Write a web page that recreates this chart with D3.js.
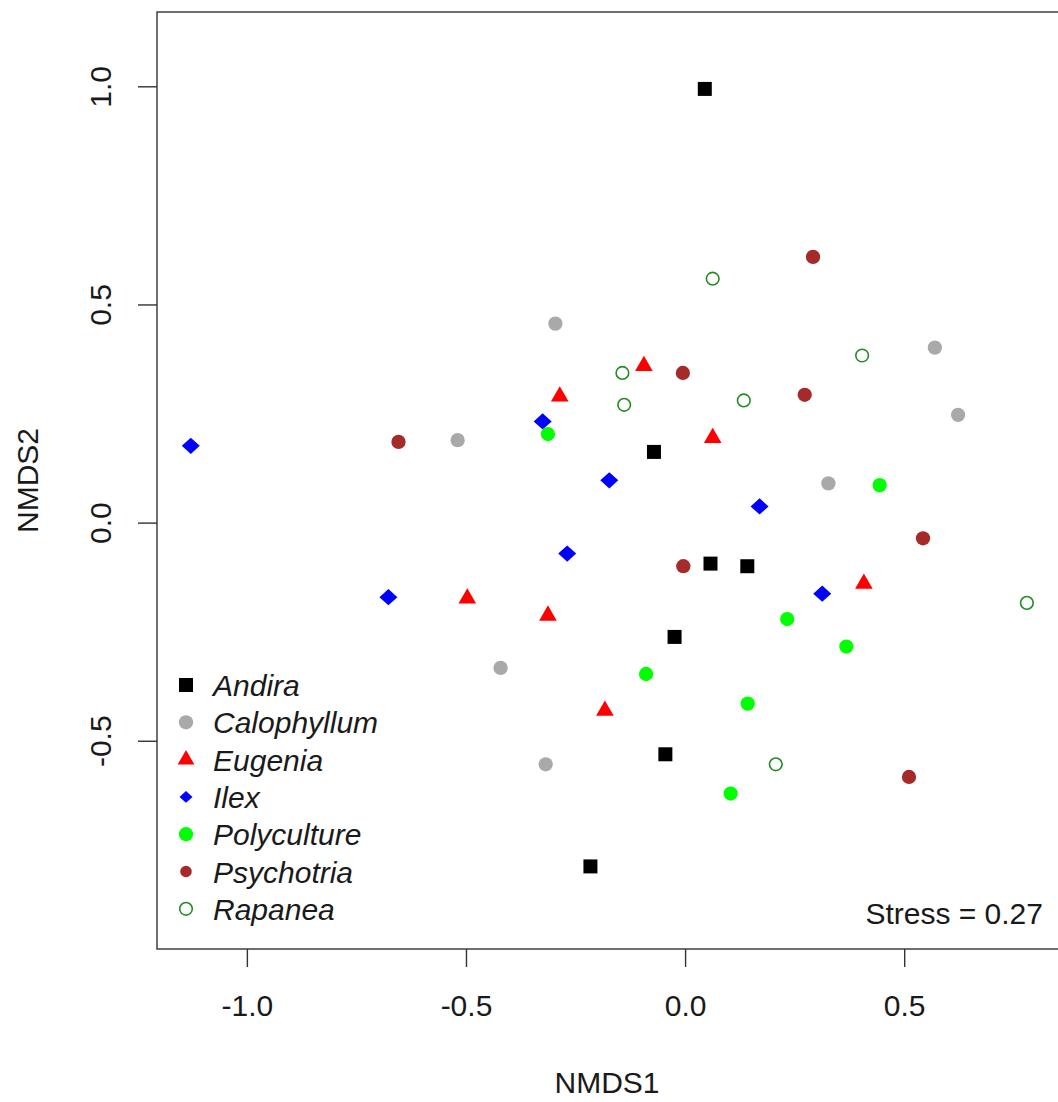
<!DOCTYPE html>
<html>
<head>
<meta charset="utf-8">
<script src="https://cdn.jsdelivr.net/npm/d3@7"></script>
<style>
  html, body { margin: 0; padding: 0; background: #fff; }
  svg { display: block; font-family: "Liberation Sans", Arial, sans-serif; }
</style>
</head>
<body>
<svg id="chart" width="1058" height="1102"></svg>
<script>
// NMDS site scores per plant treatment
const groups = ["Andira", "Calophyllum", "Eugenia", "Ilex", "Polyculture", "Psychotria", "Rapanea"];

const andiraX = [0.045, -0.071, 0.058, 0.142, -0.024, -0.045, -0.216];
const andiraY = [0.994, 0.162, -0.094, -0.100, -0.262, -0.531, -0.788];

const calophyllumX = [-0.296, -0.519, 0.570, 0.623, 0.327, -0.421, -0.318];
const calophyllumY = [0.456, 0.189, 0.401, 0.247, 0.090, -0.333, -0.554];

const eugeniaX = [-0.094, -0.286, 0.063, -0.497, -0.313, 0.408, -0.183];
const eugeniaY = [0.359, 0.289, 0.194, -0.174, -0.213, -0.140, -0.431];

const ilexX = [-1.128, -0.325, -0.173, 0.170, -0.269, -0.677, 0.313];
const ilexY = [0.176, 0.232, 0.097, 0.037, -0.071, -0.171, -0.163];

const polycultureX = [-0.313, 0.444, 0.233, 0.368, -0.089, 0.143, 0.104];
const polycultureY = [0.203, 0.086, -0.221, -0.284, -0.347, -0.415, -0.621];

const psychotriaX = [0.292, -0.005, 0.273, -0.654, -0.004, 0.543, 0.511];
const psychotriaY = [0.609, 0.343, 0.293, 0.185, -0.100, -0.036, -0.583];

const rapaneaX = [0.063, -0.143, -0.139, 0.134, 0.404, 0.780, 0.207];
const rapaneaY = [0.559, 0.343, 0.270, 0.280, 0.383, -0.184, -0.554];

const xTicks = [-1.0, -0.5, 0.0, 0.5];
const yTicks = [-0.5, 0.0, 0.5, 1.0];
const stressValue = 0.27;

// drawing styles per group
const colors = ["#000000", "#a9a9a9", "#ff0000", "#0000ff", "#00ff00", "#a52a2a", "#228b22"];

const diamond = {
  draw(ctx, size) {
    const w = Math.sqrt(size) / 2, h = w * 0.9;
    ctx.moveTo(0, -h); ctx.lineTo(w, 0); ctx.lineTo(0, h); ctx.lineTo(-w, 0); ctx.closePath();
  }
};
const shapes = [d3.symbolSquare, d3.symbolCircle, d3.symbolTriangle, diamond, d3.symbolCircle, d3.symbolCircle, d3.symbolCircle];
const plotSizes = [196, 160, 135, 324, 160, 160, 125];
const legendSizes = [196, 160, 120, 169, 160, 105, 125];
const hollow = [false, false, false, false, false, false, true];

const seriesX = [andiraX, calophyllumX, eugeniaX, ilexX, polycultureX, psychotriaX, rapaneaX];
const seriesY = [andiraY, calophyllumY, eugeniaY, ilexY, polycultureY, psychotriaY, rapaneaY];

const points = [];
groups.forEach((g, gi) => {
  seriesX[gi].forEach((v, i) => points.push({ group: gi, x: v, y: seriesY[gi][i] }));
});

const svg = d3.select("#chart");
const plotL = 157, plotR = 1059, plotT = 12, plotB = 949;

const x = d3.scaleLinear().domain([-1.2051, 0.8533]).range([plotL, plotR]);
const y = d3.scaleLinear().domain([-0.9773, 1.1703]).range([plotB, plotT]);

const fontSize = 30;
const ink = "#1a1a1a";

// plot frame
svg.append("rect")
  .attr("x", plotL).attr("y", plotT)
  .attr("width", plotR - plotL).attr("height", plotB - plotT)
  .attr("fill", "none").attr("stroke", "#333").attr("stroke-width", 1.4);

// axes
const fmt = d => d.toFixed(1);
const xAxis = svg.append("g")
  .attr("transform", `translate(0,${plotB})`)
  .call(d3.axisBottom(x).tickValues(xTicks).tickFormat(fmt).tickSize(18).tickPadding(26));
const yAxis = svg.append("g")
  .attr("transform", `translate(${plotL},0)`)
  .call(d3.axisLeft(y).tickValues(yTicks).tickFormat(fmt).tickSize(19).tickPadding(0));

[xAxis, yAxis].forEach(a => {
  a.select(".domain").remove();
  a.selectAll(".tick line").attr("stroke", "#333").attr("stroke-width", 1.4);
  a.selectAll(".tick text").attr("fill", ink).attr("font-size", fontSize)
    .attr("font-family", "Liberation Sans, Arial, sans-serif");
});
xAxis.selectAll(".tick text").attr("dy", null).attr("y", 0)
  .attr("transform", "translate(0,67)");
yAxis.selectAll(".tick text")
  .attr("x", null).attr("dy", null)
  .attr("text-anchor", "middle")
  .attr("transform", "translate(-46,0) rotate(-90)")
  .attr("y", 0);

// axis titles
svg.append("text")
  .attr("x", 607).attr("y", 1093)
  .attr("text-anchor", "middle").attr("font-size", fontSize).attr("fill", ink)
  .text("NMDS1");
svg.append("text")
  .attr("transform", `translate(38,${(plotT + plotB) / 2}) rotate(-90)`)
  .attr("text-anchor", "middle").attr("font-size", fontSize).attr("fill", ink)
  .text("NMDS2");

// points
svg.append("g").selectAll("path")
  .data(points)
  .join("path")
  .attr("transform", d => `translate(${x(d.x)},${y(d.y)})`)
  .attr("d", d => d3.symbol(shapes[d.group], plotSizes[d.group])())
  .attr("fill", d => hollow[d.group] ? "none" : colors[d.group])
  .attr("stroke", d => hollow[d.group] ? colors[d.group] : "none")
  .attr("stroke-width", 1.6);

// legend
const legend = svg.append("g");
const legX = 186, legY0 = 685, legStep = 37.3;
groups.forEach((g, gi) => {
  const cy = legY0 + gi * legStep;
  legend.append("path")
    .attr("transform", `translate(${legX},${cy})`)
    .attr("d", d3.symbol(shapes[gi], legendSizes[gi])())
    .attr("fill", hollow[gi] ? "none" : colors[gi])
    .attr("stroke", hollow[gi] ? colors[gi] : "none")
    .attr("stroke-width", 1.6);
  legend.append("text")
    .attr("x", 213).attr("y", cy + 11)
    .attr("font-size", fontSize).attr("font-style", "italic").attr("fill", ink)
    .text(g);
});

// stress annotation
svg.append("text")
  .attr("x", 1043).attr("y", 924)
  .attr("text-anchor", "end").attr("font-size", fontSize).attr("fill", ink)
  .text(`Stress = ${stressValue.toFixed(2)}`);
</script>
</body>
</html>
